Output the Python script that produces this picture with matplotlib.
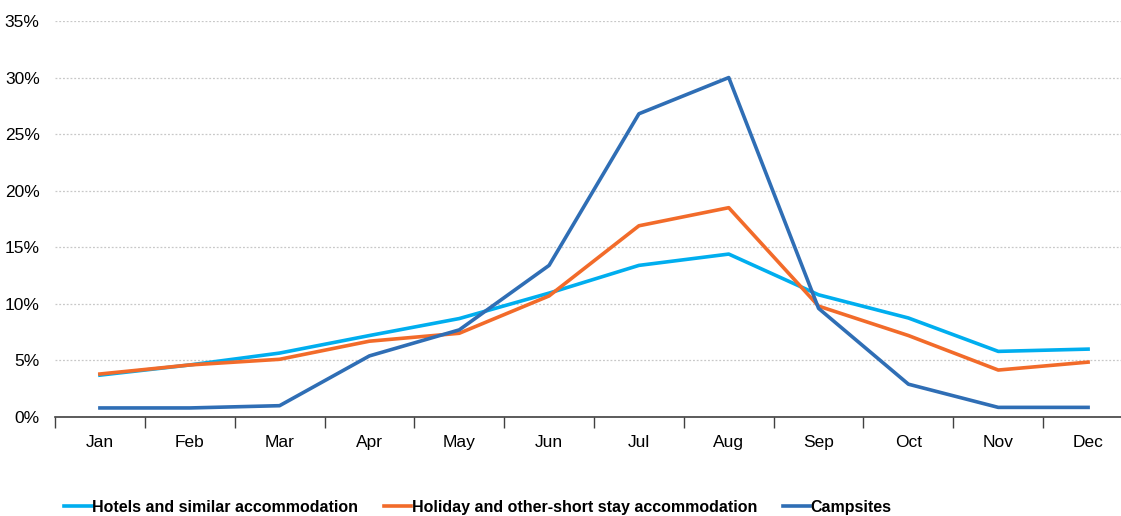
import matplotlib.pyplot as plt
from matplotlib.ticker import FuncFormatter, FixedLocator

plt.rcParams['font.family'] = ['Liberation Sans', 'DejaVu Sans']

months = ['Jan', 'Feb', 'Mar', 'Apr', 'May', 'Jun', 'Jul', 'Aug', 'Sep', 'Oct', 'Nov', 'Dec']
hotels = [3.7, 4.6, 5.65, 7.2, 8.7, 10.95, 13.4, 14.4, 10.8, 8.75, 5.8, 6.0]
holiday = [3.8, 4.6, 5.1, 6.7, 7.4, 10.7, 16.9, 18.5, 9.8, 7.2, 4.15, 4.85]
campsites = [0.8, 0.8, 1.0, 5.4, 7.7, 13.4, 26.8, 30.0, 9.6, 2.9, 0.85, 0.85]

fig = plt.figure(figsize=(11.21, 5.16), dpi=100)
ax = fig.add_axes([55 / 1121, 99 / 516, 1078 / 1121, 396 / 516])

x = range(len(months))
ax.plot(x, hotels, color='#00AEEF', lw=2.6, label='Hotels and similar accommodation')
ax.plot(x, holiday, color='#F26B2A', lw=2.6, label='Holiday and other-short stay accommodation')
ax.plot(x, campsites, color='#2F6EB5', lw=2.6, label='Campsites')

ax.set_xlim(-0.5, len(months) - 0.5)
ax.set_ylim(0, 35)
ax.set_yticks(range(0, 36, 5))
ax.yaxis.set_major_formatter(FuncFormatter(lambda v, p: f'{v:.0f}%'))
ax.set_xticks(list(x))
ax.set_xticklabels(months)
ax.xaxis.set_minor_locator(FixedLocator([i + 0.5 for i in range(-1, len(months))]))
ax.tick_params(axis='x', which='major', length=0, pad=13, labelsize=12.5)
ax.tick_params(axis='x', which='minor', length=8, width=1, color='#404040')
ax.tick_params(axis='y', length=0, pad=11, labelsize=12.5)
ax.grid(axis='y', color='#C8C8C8', ls=(0, (1.5, 1.5)), lw=0.9)
ax.set_axisbelow(True)
for s in ['top', 'right', 'left']:
    ax.spines[s].set_visible(False)
ax.spines['bottom'].set_color('#404040')
ax.spines['bottom'].set_linewidth(1.2)

fig.legend(loc='lower left', bbox_to_anchor=(50 / 1121, -0.025), ncol=3, frameon=False,
           prop={'weight': 'bold', 'size': 11.5}, handlelength=1.7, handletextpad=0.05,
           columnspacing=1.6)

fig.savefig('out.png', dpi=100)
